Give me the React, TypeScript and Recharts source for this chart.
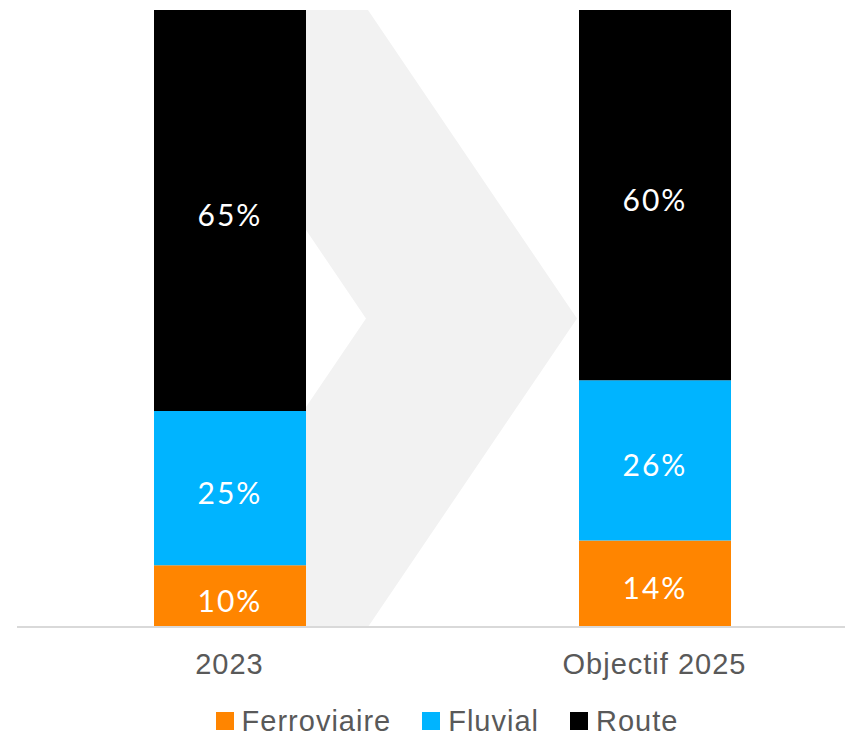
import React from "react";
import { BarChart, Bar, XAxis, YAxis, LabelList, Legend, ReferenceArea } from "recharts";

const categories = ["2023", "Objectif 2025"];
const ferroviaire = [10, 14];
const fluvial = [25, 26];
const route = [65, 60];

const seriesNames = ["Ferroviaire", "Fluvial", "Route"];
const seriesColors = ["#FF8500", "#00B4FF", "#000000"];

const data = categories.map((c, i) => ({
  name: c,
  Ferroviaire: ferroviaire[i],
  Fluvial: fluvial[i],
  Route: route[i],
}));

const Chevron = (props: any) => {
  const { x, y, width, height } = props;
  const l = x + width * 0.1647;
  const tr = x + width * 0.4129;
  const tip = x + width * 0.6588;
  const d = tip - tr;
  const mid = y + height / 2;
  const pts = [
    [l, y],
    [tr, y],
    [tip, mid],
    [tr, y + height],
    [l, y + height],
    [l + d, mid],
  ]
    .map((p) => p.join(","))
    .join(" ");
  return <polygon points={pts} fill="#F2F2F2" />;
};

const LegendContent = () => (
  <div
    style={{
      position: "relative",
      top: 4,
      display: "flex",
      justifyContent: "center",
      alignItems: "center",
      height: 40,
      paddingLeft: 10,
      fontFamily: "'Liberation Sans', Arial, sans-serif",
      fontSize: 29,
      letterSpacing: 1,
      color: "#595959",
    }}
  >
    {seriesNames.map((n, i) => (
      <div key={n} style={{ display: "flex", alignItems: "center", marginRight: i < 2 ? 31 : 0 }}>
        <div style={{ width: 18, height: 18, background: seriesColors[i], marginRight: 8 }} />
        <span style={{ lineHeight: 1 }}>{n}</span>
      </div>
    ))}
  </div>
);

const labelStyle = {
  fill: "#FFFFFF",
  fontSize: 30,
  letterSpacing: 2,
  fontFamily: "Lato, 'DejaVu Sans', sans-serif",
};

export default function App() {
  return (
    <div style={{ position: "absolute", left: 0, top: 0, width: 845, height: 737, overflow: "hidden", background: "#fff" }}>
      <BarChart
        width={867}
        height={737}
        data={data}
        margin={{ top: 10, right: 0, bottom: 0, left: 17 }}
        barSize={152}
      >
        <YAxis hide domain={[0, 100]} />
        <XAxis
          dataKey="name"
          axisLine={{ stroke: "#D9D9D9", strokeWidth: 2 }}
          tickLine={false}
          tickMargin={20}
          height={70}
          tick={{ fill: "#595959", fontSize: 29, letterSpacing: 1, fontFamily: "'Liberation Sans', Arial, sans-serif" }}
        />
        <ReferenceArea x1="2023" x2="Objectif 2025" y1={0} y2={100} shape={<Chevron />} ifOverflow="visible" />
        {seriesNames.map((n, i) => (
          <Bar key={n} dataKey={n} stackId="a" fill={seriesColors[i]} isAnimationActive={false}>
            <LabelList
              dataKey={n}
              position="center"
              formatter={(v: any) => `${v}%`}
              style={labelStyle}
              dy={5}
            />
          </Bar>
        ))}
        <Legend verticalAlign="bottom" height={40} content={<LegendContent />} />
      </BarChart>
    </div>
  );
}
